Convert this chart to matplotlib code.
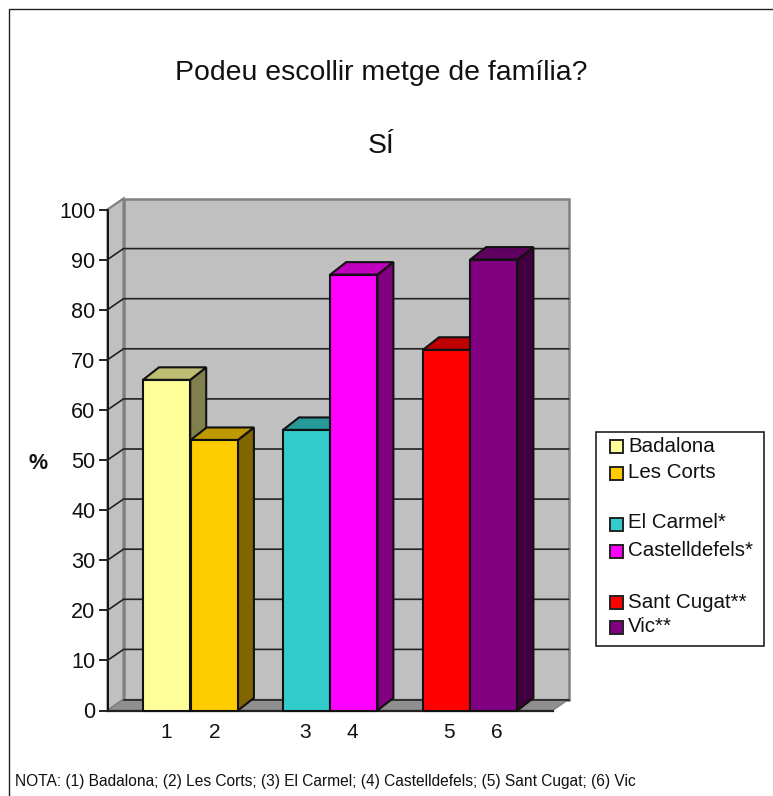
import matplotlib
matplotlib.use("Agg")
import matplotlib.pyplot as plt
from matplotlib.patches import Polygon, Rectangle
from matplotlib.lines import Line2D

plt.rcParams['font.family'] = ['Liberation Sans', 'DejaVu Sans']

# ---- data ----
names = ["Badalona", "Les Corts", "El Carmel*", "Castelldefels*", "Sant Cugat**", "Vic**"]
bar_labels = ["1", "2", "3", "4", "5", "6"]
values = [66, 54, 56, 87, 72, 90]
front_colors = ["#FFFF99", "#FFCC00", "#33CCCC", "#FF00FF", "#FF0000", "#800080"]
top_colors = ["#BFBF73", "#BF9900", "#269999", "#BF00BF", "#BF0000", "#600060"]
side_colors = ["#80804D", "#806600", "#1A6666", "#800080", "#800000", "#400040"]
y_ticks = [0, 10, 20, 30, 40, 50, 60, 70, 80, 90, 100]
title_lines = ["Podeu escollir metge de família?", "SÍ"]
note = "NOTA: (1) Badalona; (2) Les Corts; (3) El Carmel; (4) Castelldefels; (5) Sant Cugat; (6) Vic"

# ---- layout (pixels of the 773x796 image) ----
W, H = 773, 796
fig = plt.figure(figsize=(W / 100, H / 100), dpi=100, facecolor="white")
bg = fig.add_axes([0, 0, 1, 1], zorder=0)
bg.set_xlim(0, W); bg.set_ylim(H, 0); bg.axis("off")

L, R, B, T = 107.5, 552.5, 710.5, 209.5
ax = fig.add_axes([L / W, 1 - B / H, (R - L) / W, (B - T) / H], zorder=1)
ax.set_xlim(0, R - L)
ax.set_ylim(0, 100)
ax.axis("off")
upp = 100 / (B - T)            # value units per pixel
wall_dx, wall_dy = 16, 11 * upp
bar_dx, bar_dy = 16, 12.5 * upp
bar_w = 47.2
bar_lefts = [35.5, 83.2, 175.5, 222.7, 315.5, 362.7]
label_shift = [0, 0, -1.5, -1, 2, 3]
EDGE = "#111111"

def poly(pts, fc, ec=EDGE, lw=1.5, z=2):
    ax.add_patch(Polygon(pts, closed=True, facecolor=fc, edgecolor=ec, linewidth=lw,
                         zorder=z, clip_on=False, joinstyle="miter"))

W_ = R - L
# walls and floor
poly([(0, 0), (wall_dx, wall_dy), (wall_dx, 100 + wall_dy), (0, 100)], "#C0C0C0", ec="#808080", lw=1.6, z=1)
poly([(wall_dx, wall_dy), (W_ + wall_dx, wall_dy), (W_ + wall_dx, 100 + wall_dy), (wall_dx, 100 + wall_dy)],
     "#C0C0C0", ec="#808080", lw=1.8, z=1)
poly([(0, 0), (W_, 0), (W_ + wall_dx, wall_dy), (wall_dx, wall_dy)], "#8F8F8F", ec="#808080", lw=1.0, z=1.1)

# gridlines along the walls
for v in y_ticks[1:-1]:
    ax.plot([0, wall_dx, W_ + wall_dx], [v, v + wall_dy, v + wall_dy], color="#222222", lw=1.2,
            zorder=1.5, clip_on=False, solid_joinstyle="miter")
ax.plot([wall_dx, W_ + wall_dx], [wall_dy, wall_dy], color="#222222", lw=1.2, zorder=1.2, clip_on=False)
ax.plot([0, W_], [0, 0], color="#222222", lw=1.6, zorder=1.6, clip_on=False)
# value axis
ax.plot([0, 0], [0, 100], color="#111111", lw=1.4, zorder=1.7, clip_on=False)
for v in y_ticks:
    ax.plot([-8, 0], [v, v], color="#222222", lw=1.4, zorder=1.7, clip_on=False)
    ax.text(-12, v, str(v), ha="right", va="center_baseline", fontsize=15.6, color="#111111")

# bars
for i, (x, v) in enumerate(zip(bar_lefts, values)):
    z = 2 + i * 0.1
    poly([(x + bar_w, 0), (x + bar_w + bar_dx, bar_dy), (x + bar_w + bar_dx, v + bar_dy), (x + bar_w, v)],
         side_colors[i], z=z)
    poly([(x, v), (x + bar_w, v), (x + bar_w + bar_dx, v + bar_dy), (x + bar_dx, v + bar_dy)],
         top_colors[i], z=z)
    poly([(x, 0), (x + bar_w, 0), (x + bar_w, v), (x, v)], front_colors[i], z=z + 0.01)
    ax.text(x + bar_w / 2 + label_shift[i], -3.9, bar_labels[i], ha="center", va="center_baseline",
            fontsize=15, color="#111111")

# texts
bg.text(381, 70, title_lines[0], ha="center", va="center_baseline", fontsize=20.4, color="#111111")
bg.text(381, 143, title_lines[1], ha="center", va="center_baseline", fontsize=20.4, color="#111111")
bg.text(38.5, 461, "%", ha="center", va="center_baseline", fontsize=15.5, fontweight="bold", color="#111111")
bg.text(15, 780, note, ha="left", va="center_baseline", fontsize=11.2, color="#111111")

# legend
bg.add_patch(Rectangle((595.5, 431.5), 168, 214, facecolor="white", edgecolor="#222222", lw=1.2))
legend_text_y = [444, 470, 521, 548, 600, 624]
legend_box_y = [440, 467, 517.5, 544.5, 596, 621]
for name, c, ty, by in zip(names, front_colors, legend_text_y, legend_box_y):
    bg.add_patch(Rectangle((609.5, by), 13, 13, facecolor=c, edgecolor="#222222", lw=1.4))
    bg.text(628, ty, name, ha="left", va="center_baseline", fontsize=14.8, color="#111111")

# outer frame (top and left edges only)
bg.add_line(Line2D([8.5, 8.5, W], [H, 8.5, 8.5], color="#222222", lw=1.0))

fig.savefig("out.png", dpi=100, facecolor="white")
